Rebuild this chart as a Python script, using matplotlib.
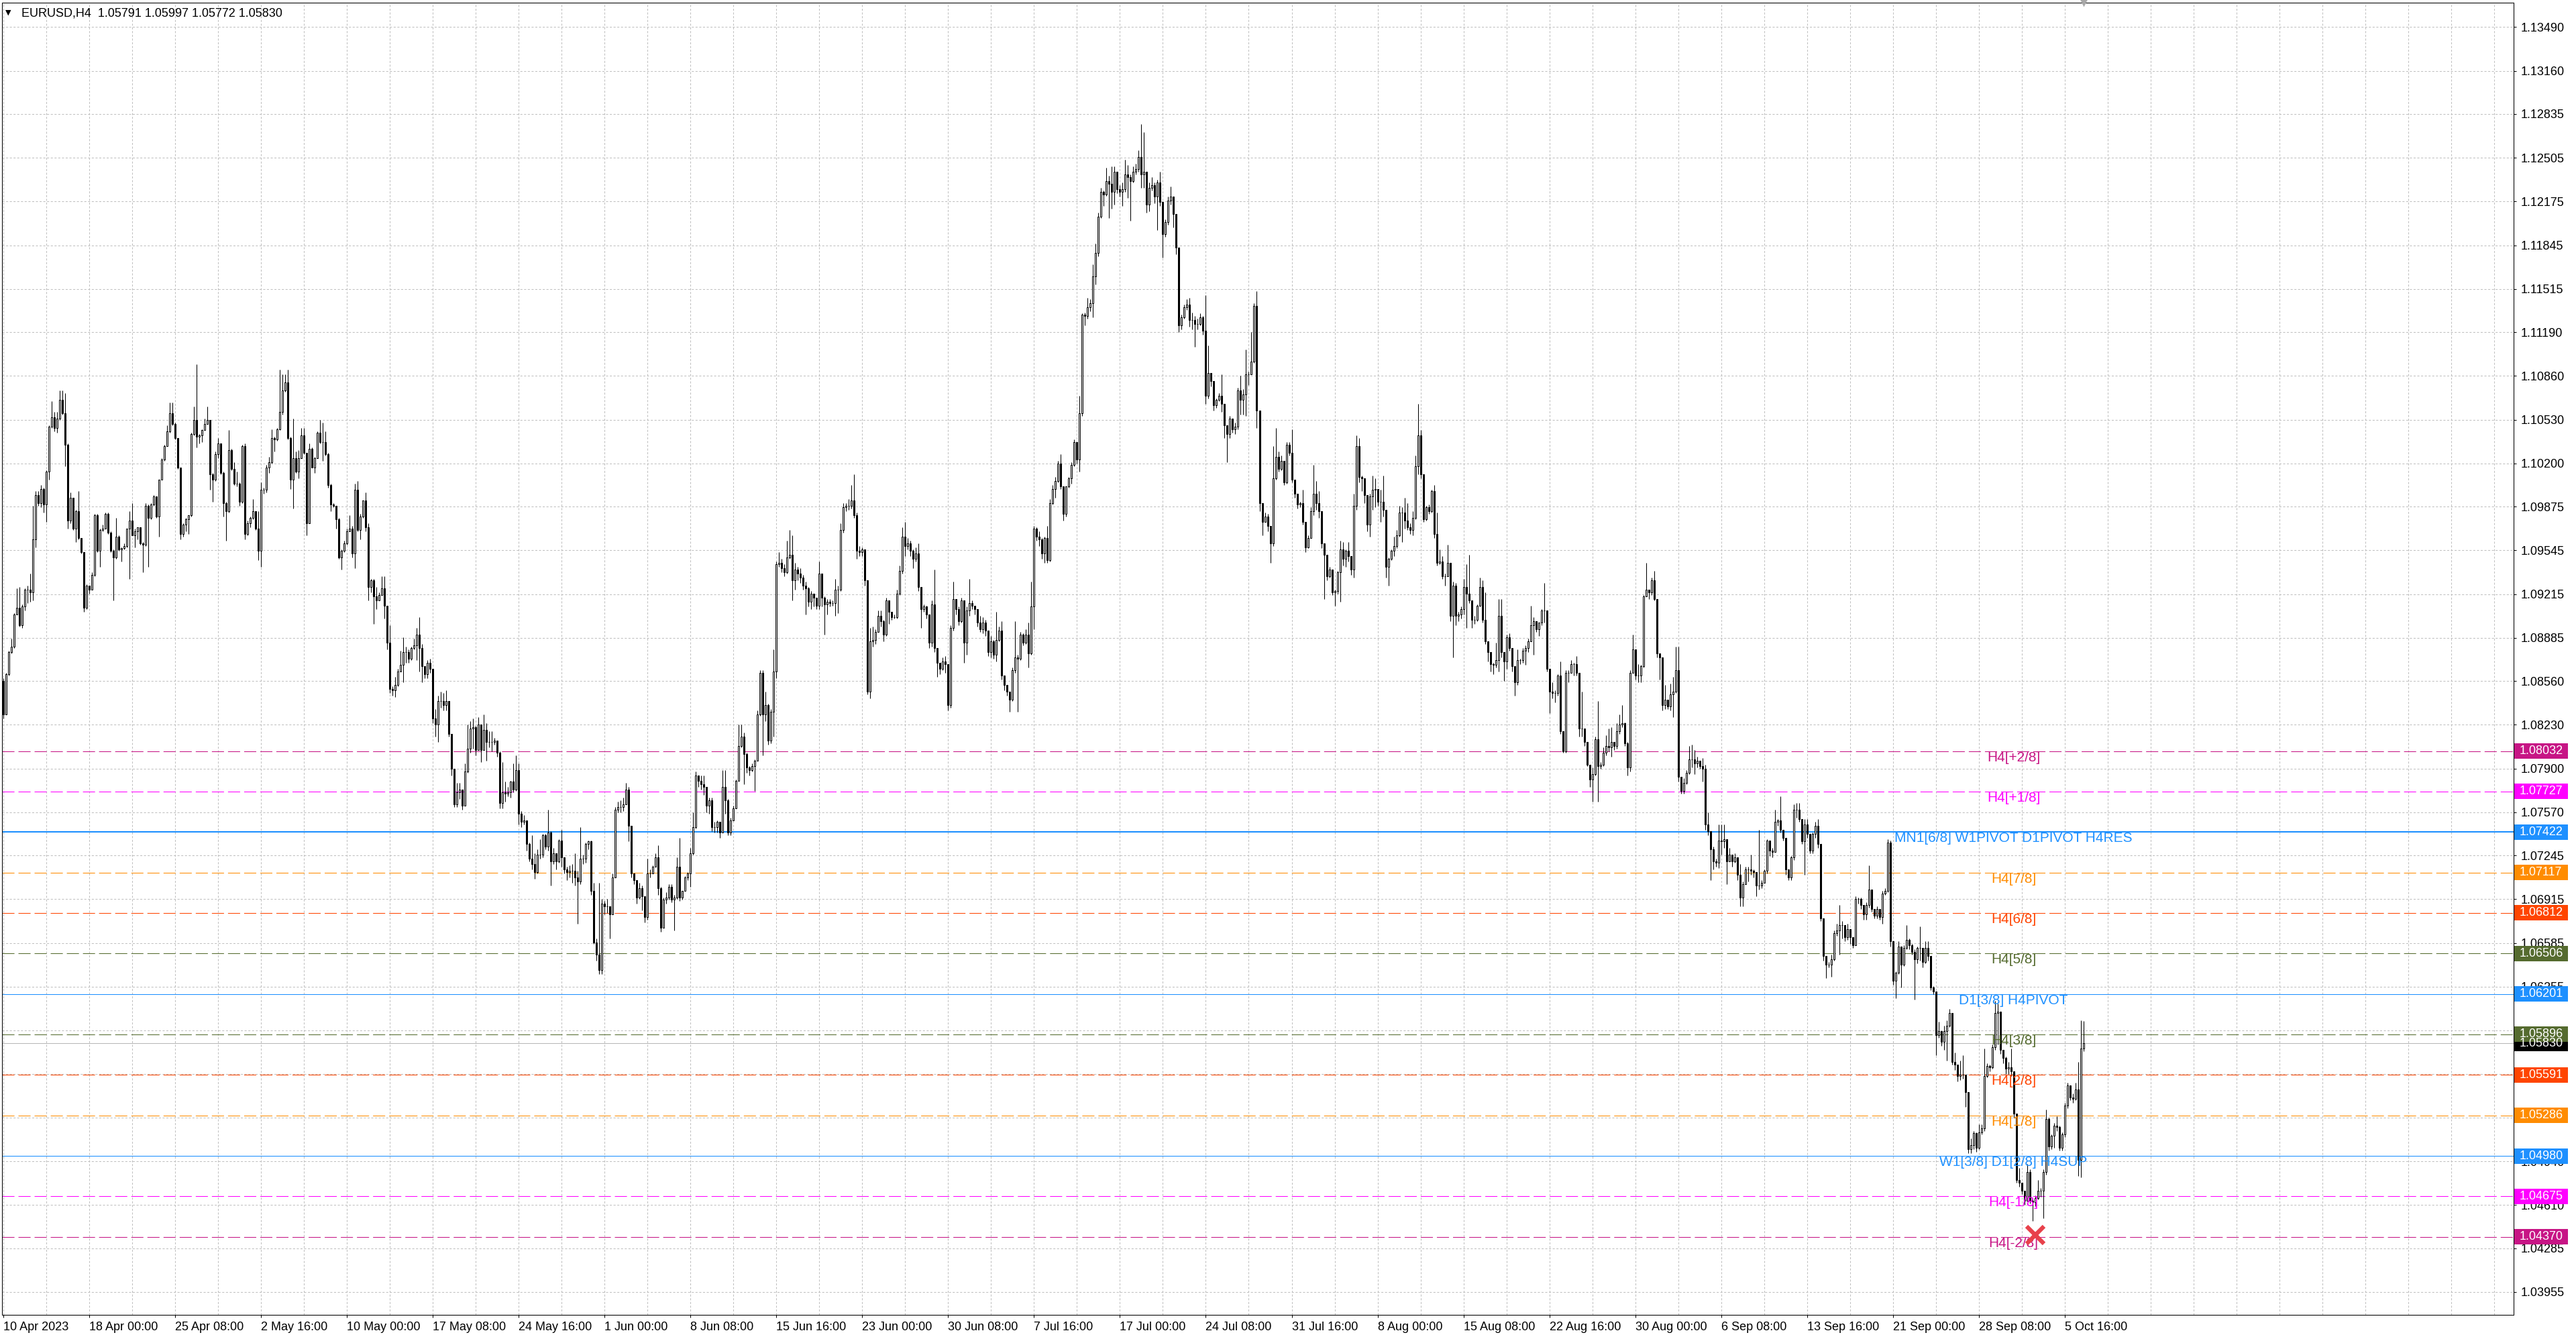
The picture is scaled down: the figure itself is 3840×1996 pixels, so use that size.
import numpy as np
import matplotlib
matplotlib.use('Agg')
import matplotlib.pyplot as plt
from matplotlib import transforms
from matplotlib.patches import Rectangle

plt.rcParams['font.family'] = ['Liberation Sans', 'DejaVu Sans']
plt.rcParams['lines.scale_dashes'] = False

symbol = 'EURUSD,H4'
last_ohlc = [1.05791, 1.05997, 1.05772, 1.05830]   # O H L C of the last bar
first_open = 1.0856

# H4 bars, in 1/10000 above 1.0000 (808 -> 1.0808)
close_pts = [
    831, 861, 878, 882, 906, 911, 898, 912, 925, 925,
    923, 963, 996, 990, 1001, 989, 1014, 1048, 1055, 1047,
    1054, 1068, 1058, 1034, 977, 994, 971, 984, 964, 953,
    911, 928, 925, 936, 981, 954, 970, 971, 982, 968,
    954, 949, 965, 955, 956, 958, 971, 977, 966, 969,
    972, 960, 959, 988, 979, 989, 995, 980, 1008, 1023,
    1033, 1044, 1058, 1050, 1039, 1017, 967, 974, 978, 981,
    1042, 1053, 1040, 1041, 1045, 1050, 1053, 1012, 1008, 1027,
    1035, 1013, 990, 984, 1030, 1016, 1005, 1005, 991, 1033,
    967, 975, 979, 984, 971, 954, 1000, 1000, 1017, 1021,
    1039, 1038, 1046, 1059, 1075, 1081, 1039, 1008, 1024, 1014,
    1024, 1041, 1028, 975, 1031, 1017, 1024, 1043, 1036, 1036,
    1027, 1004, 989, 988, 978, 949, 954, 960, 969, 971,
    952, 1000, 970, 980, 992, 972, 927, 932, 920,
    917, 921, 926, 913, 885, 850, 849, 853, 863, 868,
    878, 878, 873, 881, 883, 891, 881, 867, 861, 870,
    865, 828, 823, 841, 841, 838, 841, 816, 790, 763,
    772, 774, 762, 788, 805, 820, 821, 804, 823, 804,
    819, 810, 810, 810, 811, 802, 764, 772, 771, 772,
    780, 774, 789, 756, 750, 751, 733, 722, 718, 712,
    725, 725, 740, 731, 742, 720, 726, 720, 736, 723,
    714, 712, 713, 713, 708, 705, 722, 722, 733, 735,
    698, 659, 650, 638, 688, 686, 686, 680, 708, 759,
    761, 761, 763, 774, 747, 711, 706, 693, 700, 694,
    678, 711, 711, 716, 723, 700, 670, 691, 693, 701,
    691, 693, 716, 693, 698, 708, 711, 726, 746, 785,
    781, 778, 776, 762, 766, 746, 746, 750, 742, 776,
    766, 742, 751, 760, 781,
    807, 814, 801, 791, 789, 792, 796, 831, 862, 831,
    838, 811, 833, 863, 944, 945, 941, 938, 949, 951,
    932, 940, 937, 934, 928, 926, 916, 922, 919, 913,
    937, 919, 914, 916, 915, 915, 925, 925, 970, 987,
    988, 988, 992, 981, 954, 953, 955, 932, 848, 886,
    887, 893, 905, 901, 891, 917, 908, 904, 904, 922,
    939, 965, 958, 960, 954, 948, 952, 927, 910, 912,
    906, 885, 914, 881, 870, 865, 871, 869, 838, 896,
    918, 910, 901, 917, 885, 909, 915, 913, 910, 900,
    895, 900, 894, 878, 886, 876, 887, 894, 860, 853,
    848, 842, 864, 874, 873, 891, 885, 891, 877, 912,
    971, 965, 963, 952, 964,
    947, 990, 1001, 1007, 1020, 1003, 982, 1003, 1009, 1019,
    1036, 1023, 1058, 1132, 1131, 1138, 1141, 1161, 1179, 1206,
    1225, 1223, 1233, 1231, 1225, 1240, 1227, 1225, 1227, 1238,
    1236, 1233, 1240, 1242, 1251, 1238, 1240, 1215, 1228, 1230,
    1221, 1232, 1217, 1193, 1202, 1218, 1221, 1208, 1183, 1124,
    1130, 1138, 1140, 1128, 1128, 1125, 1125, 1130, 1120, 1071,
    1088, 1082, 1064, 1068, 1071, 1065, 1049, 1042, 1054, 1046,
    1048, 1075, 1068, 1072, 1087, 1087, 1097, 1139, 1060, 990,
    976, 980, 973, 960, 1009, 1025, 1016, 1022, 1006, 1034,
    1028, 1008, 997, 989, 990, 976, 957, 964, 984, 997,
    990, 984, 960, 951, 935, 940, 923, 924, 938, 955,
    948, 954, 950, 940, 988, 1033, 1010, 1009, 996, 974,
    995, 1000, 1001, 991, 991, 985, 942, 948, 954, 958,
    966, 983, 983, 977, 972, 970, 979, 1018, 1041, 1012,
    978, 987, 984, 999, 967, 945, 946, 935, 935, 945,
    905, 928, 905, 906, 910, 927, 922, 917, 902, 902,
    913, 927, 902, 886, 878, 869, 868, 872, 905, 878,
    871, 889, 881, 867, 855, 872, 872, 879, 881, 886,
    898, 901, 895, 900, 909, 909, 865, 848, 847, 847,
    860, 818, 803, 862, 862, 869, 869, 862, 820, 820,
    810, 793, 782, 786, 812, 792, 793, 802, 807, 806,
    810, 807, 818, 823, 824, 809, 791, 862, 880, 860,
    860, 867, 920, 925, 923, 932, 918, 877, 874, 838,
    842, 837, 846, 848, 864, 784, 773, 779, 787, 797,
    797, 794, 796, 792, 790, 748, 743, 729, 720, 719,
    736, 735, 737, 720, 725, 720, 723, 710, 693, 703,
    714, 714, 713, 712, 702, 702, 704, 713, 736, 728,
    727, 750, 751, 744, 738, 714, 708, 723, 759, 759,
    752, 735, 748, 741, 728, 741, 747, 733, 677, 649,
    642, 642, 646, 666, 668, 672, 672, 663, 669, 663,
    657, 692, 692, 687, 680, 687, 699, 684, 679, 684,
    678, 696, 698, 734, 660, 630, 636, 656, 642, 655,
    661, 657, 652, 646, 655, 655, 644, 655, 649, 625,
    622, 589, 592, 584, 592, 596, 606, 569, 567, 558,
    559, 559, 546, 503, 506, 515, 504, 516, 519, 558,
    566, 565, 580, 606, 607, 578, 572, 564, 565, 562,
    530, 480, 478, 472, 464, 486, 464, 463, 466, 472,
    472, 486, 526, 505, 513, 521, 520, 504, 514, 536,
    551, 542, 541, 548, 495, 579,
]

high_pts = [
    858, 862, 879, 888, 907, 926, 927, 914, 926, 928,
    937, 988, 999, 999, 1004, 1002, 1015, 1049, 1067, 1059,
    1059, 1075, 1075, 1073, 1035, 998, 993, 985, 999, 964,
    953, 929, 926, 938, 982, 982, 971, 974, 983, 983,
    969, 955, 979, 966, 957, 960, 971, 984, 990, 971,
    972, 971, 961, 990, 989, 990, 996, 995, 1008, 1024,
    1034, 1049, 1066, 1066, 1051, 1039, 1017, 975, 979, 981,
    1043, 1063, 1095, 1042, 1046, 1054, 1063, 1053, 1013, 1029,
    1039, 1035, 1014, 991, 1045, 1031, 1021, 1014, 1006, 1034,
    1035, 977, 980, 993, 984, 984, 1006, 1002, 1019, 1025,
    1046, 1040, 1047, 1091, 1087, 1087, 1091, 1040, 1054, 1029,
    1030, 1047, 1047, 1028, 1035, 1032, 1025, 1044, 1053, 1051,
    1044, 1028, 1005, 990, 988, 979, 955, 962, 971, 981,
    973, 1005, 1007, 982, 992, 998, 975, 933, 933,
    927, 923, 935, 935, 913, 898, 852, 859, 865, 879,
    889, 882, 880, 882, 888, 896, 904, 884, 866, 872,
    873, 865, 835, 845, 848, 847, 849, 833, 816, 790,
    779, 779, 774, 794, 823, 826, 828, 822, 829, 819,
    831, 824, 818, 818, 813, 811, 803, 795, 780, 776,
    781, 794, 800, 794, 758, 755, 751, 734, 740, 726,
    729, 737, 741, 741, 759, 743, 730, 726, 737, 744,
    723, 716, 717, 718, 726, 713, 746, 725, 734, 736,
    736, 704, 662, 704, 692, 690, 692, 684, 711, 761,
    765, 766, 768, 779, 776, 747, 711, 706, 704, 702,
    694, 722, 714, 717, 726, 732, 701, 693, 697, 703,
    703, 695, 723, 738, 698, 709, 712, 730, 757, 788,
    785, 785, 785, 775, 768, 768, 750, 751, 750, 789,
    789, 767, 753, 762, 782,
    823, 823, 817, 802, 792, 794, 797, 834, 864, 864,
    848, 839, 835, 880, 946, 953, 948, 944, 962, 970,
    966, 945, 942, 941, 936, 931, 927, 924, 922, 919,
    946, 937, 920, 918, 918, 917, 933, 928, 975, 990,
    990, 993, 1004, 1012, 983, 958, 957, 955, 932, 896,
    897, 895, 909, 909, 902, 919, 917, 908, 906, 925,
    943, 972, 976, 964, 962, 955, 957, 960, 927, 914,
    913, 906, 917, 940, 881, 870, 874, 875, 869, 898,
    931, 918, 912, 919, 917, 912, 933, 917, 913, 910,
    905, 904, 902, 894, 890, 887, 908, 897, 901, 860,
    853, 848, 866, 901, 876, 893, 892, 895, 900, 931,
    973, 972, 969, 964, 965,
    973, 993, 1004, 1010, 1022, 1027, 1003, 1003, 1010, 1021,
    1038, 1036, 1071, 1133, 1134, 1145, 1144, 1170, 1186, 1209,
    1228, 1226, 1243, 1237, 1244, 1244, 1240, 1230, 1232, 1249,
    1245, 1238, 1244, 1246, 1256, 1276, 1270, 1240, 1232, 1236,
    1232, 1234, 1240, 1217, 1204, 1221, 1229, 1221, 1208, 1183,
    1132, 1140, 1144, 1145, 1134, 1131, 1129, 1133, 1131, 1147,
    1109, 1088, 1082, 1069, 1073, 1087, 1065, 1049, 1056, 1054,
    1051, 1077, 1086, 1076, 1106, 1089, 1119, 1141, 1150, 1060,
    990, 983, 982, 973, 1033, 1047, 1029, 1026, 1022, 1036,
    1036, 1046, 1008, 996, 991, 1000, 976, 966, 987, 1019,
    1007, 999, 984, 960, 951, 942, 940, 925, 939, 962,
    961, 955, 961, 950, 997, 1041, 1039, 1011, 1009, 996,
    997, 1011, 1009, 1001, 1000, 1011, 985, 949, 955, 965,
    970, 988, 987, 994, 990, 975, 984, 1026, 1065, 1045,
    1012, 988, 989, 1000, 1004, 983, 955, 950, 937, 959,
    945, 931, 930, 908, 912, 933, 944, 951, 917, 905,
    914, 934, 932, 923, 886, 878, 870, 885, 918, 918,
    878, 891, 892, 881, 867, 880, 873, 881, 883, 888,
    913, 904, 901, 900, 910, 930, 909, 865, 855, 849,
    861, 871, 818, 864, 864, 872, 870, 875, 862, 848,
    820, 809, 793, 791, 814, 841, 795, 806, 815, 820,
    821, 810, 824, 831, 838, 825, 810, 864, 891, 874,
    869, 868, 921, 945, 925, 934, 939, 918, 877, 874,
    853, 842, 854, 859, 882, 882, 784, 783, 789, 807,
    808, 804, 799, 794, 798, 793, 757, 743, 731, 722,
    748, 748, 748, 737, 730, 725, 726, 723, 718, 705,
    716, 716, 725, 714, 712, 744, 706, 714, 737, 736,
    730, 759, 752, 769, 743, 738, 714, 724, 763, 764,
    764, 752, 752, 752, 741, 742, 750, 752, 733, 677,
    649, 644, 650, 668, 673, 687, 675, 672, 673, 669,
    663, 694, 693, 693, 687, 689, 717, 699, 684, 686,
    684, 698, 700, 737, 736, 660, 637, 660, 656, 657,
    672, 662, 658, 654, 656, 671, 655, 660, 660, 649,
    626, 622, 599, 592, 596, 600, 609, 606, 576, 567,
    570, 574, 559, 546, 511, 517, 516, 522, 522, 579,
    568, 567, 582, 615, 613, 605, 578, 573, 569, 579,
    562, 530, 489, 478, 472, 492, 488, 466, 468, 480,
    474, 488, 533, 527, 514, 523, 528, 521, 516, 538,
    553, 551, 545, 553, 569, 600,
]

low_pts = [
    828, 847, 860, 877, 881, 906, 897, 896, 909, 915,
    916, 917, 957, 988, 987, 983, 976, 1008, 1047, 1044,
    1043, 1053, 1057, 1018, 971, 975, 970, 961, 963, 952,
    908, 910, 922, 925, 935, 953, 942, 969, 971, 967,
    953, 917, 948, 954, 946, 955, 957, 933, 966, 957,
    963, 959, 938, 958, 942, 978, 988, 979, 965, 1008,
    1022, 1033, 1043, 1049, 1038, 1016, 963, 965, 969, 967,
    980, 1041, 1032, 1035, 1036, 1045, 1050, 1000, 991, 1007,
    1024, 1012, 980, 962, 983, 1015, 1004, 1003, 988, 990,
    963, 966, 972, 978, 970, 947, 942, 997, 998, 1013,
    1020, 1029, 1037, 1045, 1057, 1074, 1038, 1001, 986, 1013,
    1009, 1024, 1027, 966, 975, 1017, 1013, 1024, 1035, 1022,
    1026, 1002, 984, 987, 971, 948, 940, 953, 959, 970,
    949, 941, 969, 963, 979, 969, 917, 923, 899,
    910, 918, 921, 903, 880, 847, 845, 844, 852, 863,
    855, 870, 870, 872, 880, 872, 863, 855, 858, 858,
    862, 824, 814, 810, 836, 834, 834, 814, 785, 761,
    761, 767, 759, 762, 787, 802, 805, 800, 819, 795,
    810, 796, 806, 803, 808, 799, 760, 760, 765, 769,
    768, 772, 773, 748, 746, 748, 728, 720, 714, 707,
    711, 722, 723, 729, 728, 702, 718, 714, 719, 716,
    711, 706, 708, 704, 702, 673, 703, 718, 719, 729,
    695, 658, 645, 635, 635, 680, 681, 662, 687, 708,
    757, 757, 758, 763, 735, 708, 703, 688, 692, 683,
    674, 676, 708, 711, 716, 695, 667, 670, 688, 691,
    689, 668, 692, 690, 691, 699, 706, 701, 725, 745,
    776, 774, 770, 757, 756, 743, 742, 742, 738, 742,
    756, 740, 740, 752, 760,
    781, 806, 778, 787, 785, 788, 773, 796, 830, 800,
    826, 808, 809, 814, 858, 942, 938, 935, 937, 948,
    917, 925, 932, 930, 925, 906, 912, 910, 912, 910,
    910, 912, 891, 906, 912, 913, 905, 907, 924, 968,
    984, 985, 986, 979, 948, 950, 950, 928, 846, 843,
    882, 884, 898, 897, 886, 890, 899, 902, 903, 903,
    921, 937, 950, 955, 950, 941, 946, 924, 896, 908,
    903, 881, 882, 878, 859, 861, 864, 862, 834, 836,
    894, 906, 898, 900, 870, 876, 905, 910, 906, 897,
    893, 892, 890, 875, 874, 873, 871, 886, 857, 849,
    845, 833, 841, 862, 833, 872, 883, 884, 866, 876,
    895, 962, 958, 948, 945,
    945, 946, 989, 994, 1006, 1001, 977, 980, 1002, 1005,
    1018, 1020, 1014, 1056, 1124, 1129, 1135, 1130, 1155, 1176,
    1205, 1214, 1222, 1205, 1212, 1215, 1224, 1221, 1214, 1225,
    1220, 1203, 1232, 1238, 1240, 1228, 1228, 1209, 1210, 1226,
    1216, 1196, 1214, 1175, 1191, 1200, 1215, 1198, 1178, 1119,
    1121, 1129, 1136, 1123, 1121, 1108, 1121, 1124, 1117, 1065,
    1069, 1078, 1060, 1062, 1067, 1059, 1039, 1021, 1039, 1043,
    1042, 1046, 1057, 1057, 1056, 1079, 1088, 1096, 1047, 984,
    966, 976, 969, 945, 958, 1008, 1014, 1015, 1004, 1005,
    1026, 1006, 994, 986, 987, 974, 953, 956, 969, 981,
    985, 979, 956, 918, 932, 934, 921, 913, 922, 916,
    943, 942, 946, 936, 934, 985, 1006, 999, 990, 969,
    965, 985, 987, 988, 976, 980, 934, 928, 947, 950,
    956, 965, 961, 971, 970, 967, 966, 978, 1012, 1009,
    976, 977, 982, 983, 964, 943, 944, 933, 928, 935,
    901, 874, 898, 901, 903, 906, 896, 915, 896, 899,
    901, 912, 900, 884, 871, 863, 861, 866, 863, 874,
    856, 865, 879, 863, 845, 853, 869, 870, 868, 878,
    886, 876, 893, 890, 898, 900, 863, 832, 843, 840,
    845, 816, 802, 802, 855, 862, 860, 860, 814, 814,
    807, 792, 776, 765, 785, 765, 790, 792, 800, 803,
    799, 804, 805, 816, 821, 807, 785, 788, 862, 857,
    855, 855, 866, 920, 918, 921, 917, 874, 857, 834,
    835, 835, 834, 829, 847, 780, 771, 771, 778, 786,
    791, 786, 791, 790, 780, 744, 740, 706, 714, 716,
    715, 725, 730, 703, 720, 716, 719, 706, 686, 686,
    703, 705, 710, 708, 694, 699, 700, 710, 711, 724,
    723, 727, 747, 742, 736, 710, 706, 706, 721, 753,
    750, 733, 710, 738, 726, 726, 738, 730, 675, 645,
    632, 640, 633, 645, 664, 650, 662, 660, 661, 658,
    655, 657, 688, 684, 676, 676, 685, 682, 677, 677,
    676, 673, 695, 697, 656, 627, 617, 635, 625, 641,
    654, 654, 650, 616, 643, 645, 640, 643, 645, 623,
    620, 574, 587, 581, 578, 570, 595, 567, 563, 554,
    555, 556, 535, 500, 500, 503, 501, 503, 514, 517,
    557, 562, 564, 578, 582, 575, 568, 560, 560, 558,
    527, 478, 475, 469, 461, 464, 462, 449, 460, 465,
    467, 451, 484, 502, 503, 504, 517, 502, 502, 512,
    534, 540, 538, 540, 483, 482,
]

date_labels = ['10 Apr 2023', '18 Apr 00:00', '25 Apr 08:00', '2 May 16:00', '10 May 00:00',
               '17 May 08:00', '24 May 16:00', '1 Jun 00:00', '8 Jun 08:00', '15 Jun 16:00',
               '23 Jun 00:00', '30 Jun 08:00', '7 Jul 16:00', '17 Jul 00:00', '24 Jul 08:00',
               '31 Jul 16:00', '8 Aug 00:00', '15 Aug 08:00', '22 Aug 16:00', '30 Aug 00:00',
               '6 Sep 08:00', '13 Sep 16:00', '21 Sep 00:00', '28 Sep 08:00', '5 Oct 16:00']
bars_per_label = 32

price_ticks = [1.13490, 1.13160, 1.12835, 1.12505, 1.12175, 1.11845, 1.11515, 1.11190,
               1.10860, 1.10530, 1.10200, 1.09875, 1.09545, 1.09215, 1.08885, 1.08560,
               1.08230, 1.07900, 1.07570, 1.07245, 1.06915, 1.06585, 1.06255, 1.05925,
               1.05600, 1.05270, 1.04940, 1.04610, 1.04285, 1.03955]

level_prices = [1.08032, 1.07727, 1.07422, 1.07117, 1.06812, 1.06506, 1.06201,
                1.05896, 1.05591, 1.05286, 1.04980, 1.04675, 1.04370]
level_names = ['H4[+2/8]', 'H4[+1/8]', 'MN1[6/8] W1PIVOT D1PIVOT H4RES', 'H4[7/8]', 'H4[6/8]',
               'H4[5/8]', 'D1[3/8] H4PIVOT', 'H4[3/8]', 'H4[2/8]', 'H4[1/8]',
               'W1[3/8] D1[2/8] H4SUP', 'H4[-1/8]', 'H4[-2/8]']
level_colors = ['#C71585', '#FF00FF', '#1E90FF', '#FF8C00', '#FF4500', '#556B2F', '#1E90FF',
                '#556B2F', '#FF4500', '#FF8C00', '#1E90FF', '#FF00FF', '#C71585']
level_solid = [False, False, True, False, False, False, True, False, False, False, True, False, False]
level_width = [0.75, 0.75, 1.5, 0.75, 0.75, 0.75, 0.75, 0.75, 0.75, 0.75, 0.75, 0.75, 0.75]

label_bar = 749          # bar where the level names are written
cross_bar = 757          # red cross object
cross_price = 1.04385

# ---- build OHLC ----
close = 1 + np.array(close_pts) / 1e4
high = 1 + np.array(high_pts) / 1e4
low = 1 + np.array(low_pts) / 1e4
assert len(close) == len(high) == len(low), (len(close), len(high), len(low))
opens = np.concatenate([[first_open], close[:-1]])
opens = np.append(opens, last_ohlc[0])
high = np.append(high, last_ohlc[1])
low = np.append(low, last_ohlc[2])
close = np.append(close, last_ohlc[3])
high = np.maximum(high, np.maximum(opens, close))
low = np.minimum(low, np.minimum(opens, close))
x = np.arange(len(close))

# ---- figure ----
W, H = 3840, 1996
fig = plt.figure(figsize=(W / 100, H / 100), dpi=100)
ax_l, ax_r, ax_t, ax_b = 3, 3746.5, 4, 1960
ax = fig.add_axes([ax_l / W, 1 - ax_b / H, (ax_r - ax_l) / W, (ax_b - ax_t) / H])
ymin, ymax = 1.03782, 1.13674
ax.set_xlim(-0.575, 935.2)
ax.set_ylim(ymin, ymax)

grid_kw = dict(color='#C0C0C0', lw=0.75, ls=(0, (2.2, 1.8)), zorder=1)
for p in price_ticks:
    ax.axhline(p, **grid_kw)
for b in range(0, 936, 16):
    ax.axvline(b, **grid_kw)

# levels
for p, c, solid, lw in zip(level_prices, level_colors, level_solid, level_width):
    ax.axhline(p, color=c, lw=lw, ls='-' if solid else (0, (13, 4.3)), zorder=2)
ax.axhline(last_ohlc[3], color='#B8B8B8', lw=0.75, zorder=2)

# candles
ax.vlines(x, low, high, color='black', lw=0.75, zorder=3)
up = close >= opens
bottom = np.minimum(opens, close)
height = np.abs(close - opens)
ax.bar(x[up], height[up], bottom=bottom[up], width=0.5, color='white',
       edgecolor='black', lw=0.75, zorder=4)
ax.bar(x[~up], height[~up], bottom=bottom[~up], width=0.5, color='black',
       edgecolor='black', lw=0.75, zorder=4)

# level names
for p, name, c in zip(level_prices, level_names, level_colors):
    ax.text(label_bar, p, name, color=c, fontsize=15, ha='center', va='top', zorder=6)

ax.plot(cross_bar, cross_price, marker='x', ms=19, mew=4.5, color='#E8414B', zorder=7)
ax.plot(x[-1], 1, transform=transforms.blended_transform_factory(ax.transData, ax.transAxes),
        marker='v', ms=9, color='#A8A8A8', mec='none', clip_on=False, zorder=8)

# axes, ticks
for s in ax.spines.values():
    s.set_color('black')
    s.set_linewidth(0.75)
ax.yaxis.tick_right()
ax.set_yticks(price_ticks)
ax.set_yticklabels([f'{p:.5f}' for p in price_ticks])
ax.tick_params(axis='y', length=3, width=0.75, pad=5, labelsize=13, colors='black')
ax.set_xticks([i * bars_per_label for i in range(len(date_labels))])
ax.set_xticklabels(date_labels, ha='left')
ax.tick_params(axis='x', length=3, width=0.75, pad=4.5, labelsize=13, colors='black')

# price boxes on the right
box_tr = transforms.blended_transform_factory(fig.transFigure, ax.transData)
half = 11.5 * (ymax - ymin) / (ax_b - ax_t)
boxes = [(last_ohlc[3], 'black')] + list(zip(level_prices, level_colors))
for p, c in boxes:
    ax.add_patch(Rectangle((3748 / W, p - half), 80 / W, 2 * half, transform=box_tr,
                           facecolor=c, edgecolor='none', clip_on=False, zorder=9))
    ax.text(3756 / W, p, f'{p:.5f}', transform=box_tr, color='white', fontsize=13,
            ha='left', va='center', clip_on=False, zorder=10)

# header
fig.text(8 / W, 1 - 19 / H, '\u25bc', fontsize=8, family='DejaVu Sans', va='center')
fig.text(32.5 / W, 1 - 20 / H,
         symbol + '  ' + ' '.join(f'{v:.5f}' for v in last_ohlc),
         fontsize=13, va='center')

fig.savefig('out.png', dpi=100, facecolor='white')
